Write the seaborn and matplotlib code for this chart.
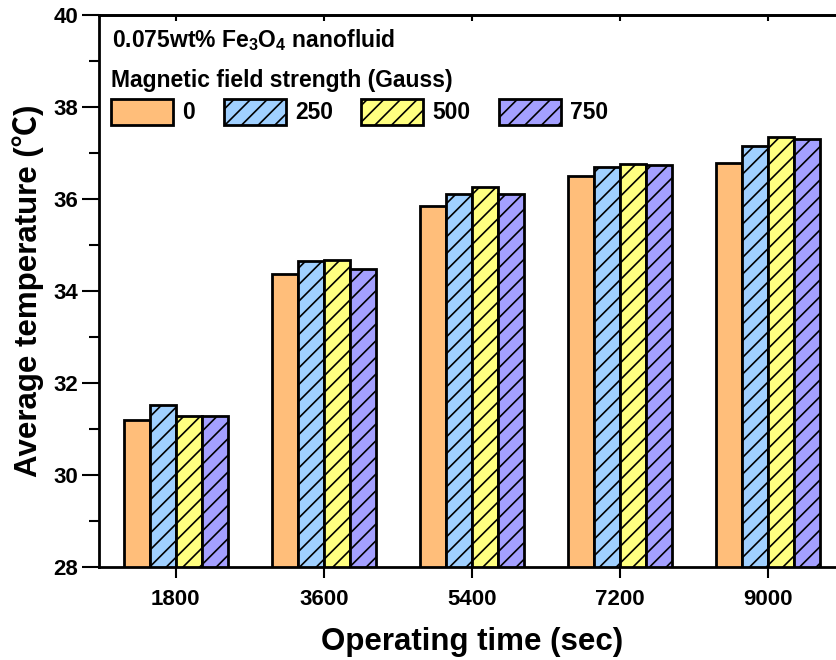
import pandas as pd
import numpy as np
import seaborn as sns
import matplotlib.pyplot as plt
from matplotlib.ticker import MultipleLocator

# data
times = ['1800', '3600', '5400', '7200', '9000']
fields = ['0', '250', '500', '750']
temp_0 = [31.20, 34.36, 35.85, 36.49, 36.79]
temp_250 = [31.52, 34.65, 36.11, 36.70, 37.15]
temp_500 = [31.28, 34.67, 36.27, 36.76, 37.35]
temp_750 = [31.28, 34.47, 36.11, 36.74, 37.30]
colors = ['#FFBE7A', '#A0D0FF', '#FFFF80', '#A4A0FF']
hatches = ['', '//', '//', '//']

rows = []
for f, vals in zip(fields, [temp_0, temp_250, temp_500, temp_750]):
    for t, v in zip(times, vals):
        rows.append({'time': t, 'field': f, 'temp': v})
df = pd.DataFrame(rows)

sns.set_style('ticks')
plt.rcParams['font.family'] = ['Liberation Sans', 'DejaVu Sans']
plt.rcParams['font.weight'] = 'bold'
plt.rcParams['mathtext.fontset'] = 'custom'
plt.rcParams['mathtext.rm'] = 'Liberation Sans:bold'
plt.rcParams['mathtext.default'] = 'rm'
plt.rcParams['hatch.linewidth'] = 1.2
plt.rcParams['hatch.color'] = 'black'
for k in ['text.color', 'axes.labelcolor', 'xtick.color', 'ytick.color']:
    plt.rcParams[k] = 'black'

fig = plt.figure(figsize=(8.37, 6.6), dpi=100)
ax = fig.add_axes([0.1183, 0.1409, 0.891, 0.8364])

sns.barplot(data=df, x='time', y='temp', hue='field', order=times,
            hue_order=fields, palette=colors, saturation=1, width=0.7, gap=0,
            edgecolor='black', linewidth=2, ax=ax, legend=False)

for cont, h in zip(ax.containers, hatches):
    for p in cont.patches:
        p.set_hatch(h)

ax.set_ylim(28, 40)
ax.set_xlim(-0.518, 4.518)
ax.yaxis.set_major_locator(MultipleLocator(2))
ax.yaxis.set_minor_locator(MultipleLocator(1))

for s in ax.spines.values():
    s.set_linewidth(2)
    s.set_color('black')

ax.tick_params(axis='y', which='major', direction='out', length=12, width=1.5,
               labelsize=16, pad=3)
ax.tick_params(axis='y', which='minor', direction='out', length=7, width=1.5)
ax.tick_params(axis='x', which='major', direction='out', length=8, width=1.5,
               labelsize=16, pad=8)
for lab in ax.get_xticklabels() + ax.get_yticklabels():
    lab.set_fontweight('bold')

top = ax.secondary_xaxis('top')
top.set_xticks(range(len(times)))
top.tick_params(direction='in', length=4, width=1.5, labeltop=False)
top.spines['top'].set_linewidth(2)

ax.set_xlabel('Operating time (sec)', fontsize=22.5, fontweight='bold', labelpad=12)
ax.set_ylabel('Average temperature (℃)', fontsize=22.5, fontweight='bold',
              labelpad=7, family=['Liberation Sans', 'Noto Sans CJK SC'])

ax.text(0.0174, 0.955, r'0.075wt% Fe$_3$O$_4$ nanofluid', transform=ax.transAxes,
        fontsize=16.5, fontweight='bold', ha='left', va='center')

leg = ax.legend(handles=list(ax.containers), labels=fields, ncol=4,
                title='Magnetic field strength (Gauss)', loc='upper left',
                bbox_to_anchor=(-0.005, 0.931), frameon=False,
                prop={'size': 16.5, 'weight': 'bold'},
                title_fontproperties={'size': 16.5, 'weight': 'bold'},
                handlelength=2.7, handleheight=1.35, handletextpad=0.4,
                columnspacing=1.25, borderpad=0.2, labelspacing=0.3)
leg._legend_box.align = 'left'

fig.savefig('out.png', dpi=100)
